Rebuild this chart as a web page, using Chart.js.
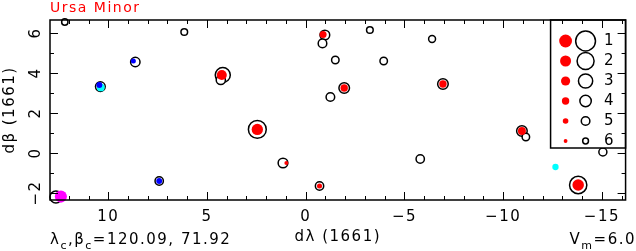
<!DOCTYPE html>
<html>
<head>
<meta charset="utf-8">
<script src="https://cdn.jsdelivr.net/npm/chart.js@4/dist/chart.umd.min.js"></script>
<style>
html, body { margin:0; padding:0; background:#fff; }
#caixa { width:636px; height:251px; }
</style>
</head>
<body>
<div id="caixa"><canvas id="grafico"></canvas></div>
<script>
// estrelas do catalogo de 1661 (circulos abertos)
var abertoX   = [12.2, 6.15, 8.63, 10.4, 4.2, 4.3, -0.97, -0.85, -3.25, -1.5, -3.95, -1.95, -1.25, 2.45, 1.15, -0.7, -6.4, -6.95, -10.95, -11.15, -5.8, -13.8, 7.42, 12.65, -15.05];
var abertoY   = [6.55, 6.05, 4.55, 3.32, 3.9, 3.65, 5.9, 5.48, 6.15, 4.65, 4.6, 3.25, 2.8, 1.18, -0.5, -1.65, 5.7, 3.45, 1.1, 0.8, -0.3, -1.6, -1.4, -2.2, 0.05];
var abertoMag = [5.8, 5.7, 4.7, 4.6, 2.7, 4.8, 4.6, 5.0, 5.7, 5.4, 5.4, 4.3, 5.0, 1.7, 4.6, 5.1, 5.6, 4.3, 4.3, 5.4, 5.1, 1.9, 5.1, 3.8, 5.2];

// estrelas identificadas (pontos vermelhos)
var vermelhoX   = [4.25, -0.88, -1.95, 2.45, 0.98, -0.7, -6.95, -10.95, -13.8];
var vermelhoY   = [3.9, 5.93, 3.25, 1.18, -0.5, -1.65, 3.45, 1.1, -1.6];
var vermelhoMag = [2.5, 4.2, 4.0, 1.8, 5.9, 5.3, 4.0, 3.7, 1.7];

// outros pontos
var azulX = [8.73, 10.45, 7.42];
var azulY = [4.6, 3.4, -1.4];
var azulMag = [5.3, 4.8, 4.8];
var cianoX = [10.38, -12.65];
var cianoY = [3.28, -0.7];
var cianoMag = [3.7, 4.6];
var magentaX = [12.4];
var magentaY = [-2.18];
var magentaMag = [1.4];

// eixos
var xTicks = [10, 5, 0, -5, -10, -15];
var yTicks = [-2, 0, 2, 4, 6];
var legendaMag = [1, 2, 3, 4, 5, 6];

var fonte = 'DejaVu Sans';

function raioAberto(m){ return 11.3 - 1.4*m; }
function raioCheio(m){ return 7.3 - 0.9*m; }
function rotulo(v){ return v < 0 ? '\u2212' + (-v) : String(v); }

function pontos(xs, ys){
  var r = [];
  for (var i = 0; i < xs.length; i++) r.push({x: xs[i], y: ys[i]});
  return r;
}

function cheio(xs, ys, mags, cor, ordem){
  return {
    data: pontos(xs, ys),
    pointRadius: function(c){ return raioCheio(mags[c.dataIndex]); },
    pointBackgroundColor: cor,
    pointBorderWidth: 0,
    borderWidth: 0,
    order: ordem,
    clip: false
  };
}

// texto com indice
function textoIndice(ctx, partes, x, y, alinhar){
  var total = 0;
  partes.forEach(function(p){
    ctx.font = (p.sub ? '11px ' : '15px ') + fonte;
    total += ctx.measureText(p.t).width;
  });
  var px = alinhar === 'right' ? x - total : x;
  partes.forEach(function(p){
    ctx.font = (p.sub ? '11px ' : '15px ') + fonte;
    ctx.fillText(p.t, px, p.sub ? y + 5 : y);
    px += ctx.measureText(p.t).width;
  });
}

var extras = {
  id: 'extras',
  beforeDraw: function(chart){
    chart.ctx.letterSpacing = '1.5px';
  },
  afterDatasetsDraw: function(chart){
    // legenda
    var ctx = chart.ctx, a = chart.chartArea;
    ctx.save();
    ctx.fillStyle = '#fff';
    ctx.fillRect(a.right - 75, a.top, 75, 128);
    ctx.strokeStyle = '#000';
    ctx.lineWidth = 1.5;
    ctx.strokeRect(a.right - 75, a.top, 75, 128);
    ctx.font = '15px ' + fonte;
    ctx.textAlign = 'center';
    ctx.textBaseline = 'middle';
    legendaMag.forEach(function(m, i){
      var yy = a.top + 21 + i*20;
      ctx.fillStyle = 'red';
      ctx.beginPath(); ctx.arc(a.right - 60, yy, raioCheio(m), 0, Math.PI*2); ctx.fill();
      ctx.beginPath(); ctx.arc(a.right - 40, yy, raioAberto(m), 0, Math.PI*2);
      ctx.stroke();
      ctx.fillStyle = '#000';
      ctx.fillText(String(m), a.right - 16, yy);
    });
    ctx.restore();
  },
  afterDraw: function(chart){
    var ctx = chart.ctx, a = chart.chartArea;
    var sx = chart.scales.x, sy = chart.scales.y;
    ctx.save();
    ctx.strokeStyle = '#000';
    ctx.lineWidth = 1;
    ctx.beginPath();
    for (var v = Math.ceil(sx.min); v <= sx.max; v++){
      var px = Math.round(sx.getPixelForValue(v)) + 0.5;
      var t = xTicks.indexOf(v) >= 0 ? 8 : 4;
      ctx.moveTo(px, a.bottom); ctx.lineTo(px, a.bottom - t);
      ctx.moveTo(px, a.top); ctx.lineTo(px, a.top + t);
    }
    for (var w = Math.ceil(sy.min); w <= sy.max; w++){
      var py = Math.round(sy.getPixelForValue(w)) + 0.5;
      var u = yTicks.indexOf(w) >= 0 ? 8 : 4;
      ctx.moveTo(a.left, py); ctx.lineTo(a.left + u, py);
      ctx.moveTo(a.right, py); ctx.lineTo(a.right - u, py);
    }
    ctx.stroke();
    ctx.lineWidth = 1.5;
    ctx.strokeRect(a.left, a.top, a.right - a.left, a.bottom - a.top);

    // rotulos do eixo y, girados
    ctx.fillStyle = '#000';
    ctx.font = '15px ' + fonte;
    ctx.textAlign = 'center';
    ctx.textBaseline = 'middle';
    yTicks.forEach(function(val){
      ctx.save();
      ctx.translate(a.left - 14, sy.getPixelForValue(val));
      ctx.rotate(-Math.PI/2);
      ctx.fillText(rotulo(val), 0, 0);
      ctx.restore();
    });

    // textos de baixo
    ctx.textBaseline = 'alphabetic';
    ctx.textAlign = 'left';
    textoIndice(ctx, [{t:'λ'},{t:'c',sub:1},{t:','},{t:'β'},{t:'c',sub:1},{t:'=120.09, 71.92'}], 50, 244, 'left');
    textoIndice(ctx, [{t:'V'},{t:'m',sub:1},{t:'=6.0'}], 636, 244, 'right');
    ctx.restore();
  }
};

var ctx = document.getElementById('grafico').getContext('2d');
var grafico = new Chart(ctx, {
  type: 'scatter',
  data: {
    datasets: [
      cheio(magentaX, magentaY, magentaMag, '#ff00ff', 1),
      cheio(azulX, azulY, azulMag, '#0000ff', 2),
      cheio(cianoX, cianoY, cianoMag, '#00ffff', 3),
      cheio(vermelhoX, vermelhoY, vermelhoMag, '#ff0000', 4),
      {
        data: pontos(abertoX, abertoY),
        pointRadius: function(c){ return raioAberto(abertoMag[c.dataIndex]); },
        pointBackgroundColor: '#fff',
        pointBorderColor: '#000',
        pointBorderWidth: 1.5,
        order: 5,
        clip: false
      }
    ]
  },
  options: {
    responsive: true,
    maintainAspectRatio: false,
    animation: false,
    events: [],
    layout: { padding: { top: 0, right: 1, left: 0, bottom: 0 } },
    plugins: {
      legend: { display: false },
      tooltip: { enabled: false },
      title: {
        display: true,
        text: 'Ursa Minor',
        color: '#ff0000',
        align: 'start',
        fullSize: false,
        font: { family: fonte, size: 14, weight: 'normal' },
        padding: { top: 0, bottom: 3.2 }
      }
    },
    scales: {
      x: {
        type: 'linear',
        reverse: true,
        min: -16.2,
        max: 12.95,
        grid: { display: false, drawTicks: false },
        border: { display: false },
        afterBuildTicks: function(s){ s.ticks = xTicks.map(function(v){ return {value: v}; }); },
        afterFit: function(s){ s.height = 51; s.paddingLeft = 0; s.paddingRight = 0; },
        ticks: { color: '#000', padding: 8, maxRotation: 0, font: { family: fonte, size: 15 }, callback: rotulo },
        title: { display: true, text: 'dλ (1661)', color: '#000', font: { family: fonte, size: 15 }, padding: { top: 0, bottom: 5 } }
      },
      y: {
        type: 'linear',
        min: -2.35,
        max: 6.65,
        grid: { display: false, drawTicks: false },
        border: { display: false },
        afterBuildTicks: function(s){ s.ticks = yTicks.map(function(v){ return {value: v}; }); },
        afterFit: function(s){ s.width = 50; s.paddingTop = 0; s.paddingBottom = 0; },
        ticks: { display: false },
        title: { display: true, text: 'dβ (1661)', color: '#000', font: { family: fonte, size: 15 }, padding: { top: 1, bottom: 0 } }
      }
    }
  },
  plugins: [extras]
});
</script>
</body>
</html>
